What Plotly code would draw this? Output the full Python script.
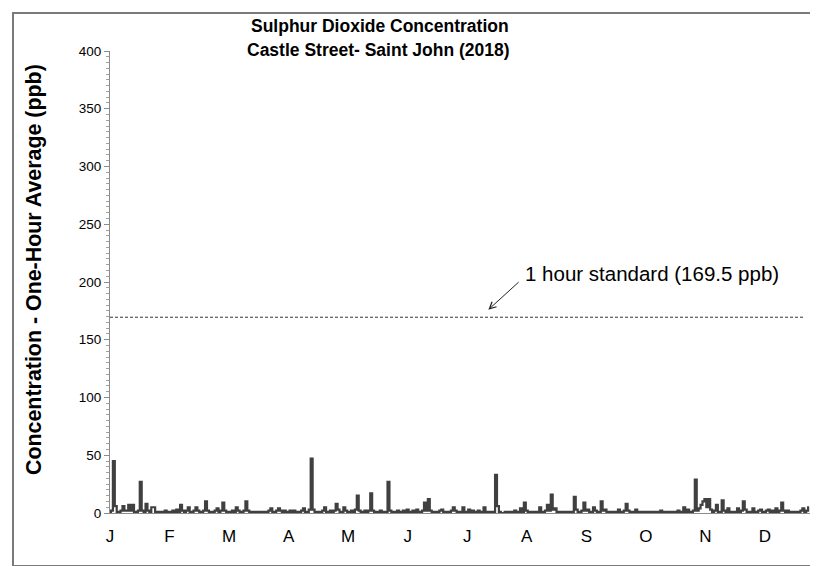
import plotly.graph_objects as go

# Daily peak one-hour SO2 (ppb), grouped in the chart's 31-day label blocks
blk_J1 = [1, 2, 45, 6, 1, 1, 2, 6, 2, 2, 7, 2, 7, 1, 1, 2, 27, 2, 1, 8, 2, 1, 5, 5, 1, 1, 1, 1, 1, 2, 1]
blk_F = [1, 1, 2, 1, 3, 1, 7, 2, 1, 2, 5, 1, 1, 2, 5, 2, 1, 1, 2, 10, 2, 1, 1, 1, 2, 4, 1, 2, 9, 2, 1]
blk_M1 = [1, 1, 2, 1, 5, 2, 1, 1, 2, 10, 2, 1, 1, 1, 1, 1, 1, 1, 1, 1, 1, 2, 4, 1, 1, 2, 4, 2, 1, 2, 1]
blk_A1 = [1, 2, 1, 2, 1, 1, 1, 2, 4, 1, 1, 3, 47, 3, 1, 1, 1, 1, 2, 5, 1, 1, 2, 1, 2, 8, 3, 1, 1, 5, 2]
blk_M2 = [1, 1, 2, 1, 3, 15, 2, 1, 1, 2, 1, 2, 17, 2, 1, 1, 1, 2, 1, 1, 1, 27, 2, 1, 1, 1, 2, 1, 1, 2, 1]
blk_J2 = [3, 1, 1, 2, 1, 3, 1, 1, 2, 9, 2, 12, 2, 1, 1, 1, 1, 2, 3, 1, 1, 1, 1, 2, 5, 2, 1, 1, 1, 5, 1]
blk_J3 = [1, 3, 1, 2, 1, 1, 2, 1, 1, 5, 1, 1, 1, 1, 1, 33, 6, 1, 0, 0, 1, 0, 1, 1, 1, 2, 1, 1, 4, 1, 9]
blk_A2 = [2, 1, 1, 1, 1, 1, 1, 5, 1, 1, 2, 7, 2, 16, 3, 4, 1, 1, 1, 1, 1, 1, 0, 1, 1, 14, 3, 1, 1, 2, 9]
blk_S = [2, 3, 1, 1, 5, 2, 1, 1, 10, 2, 3, 1, 1, 1, 1, 1, 1, 3, 1, 1, 2, 8, 2, 1, 1, 1, 3, 1, 1, 1, 1]
blk_O = [1, 0, 1, 1, 0, 1, 1, 1, 2, 1, 0, 1, 1, 1, 1, 1, 1, 2, 1, 1, 5, 1, 3, 1, 1, 2, 29, 2, 4, 7, 10]
blk_N = [12, 5, 12, 3, 1, 2, 7, 1, 1, 11, 2, 1, 4, 1, 1, 1, 1, 4, 1, 2, 10, 3, 1, 1, 1, 4, 1, 1, 2, 3, 1]
blk_D = [1, 2, 3, 1, 2, 1, 4, 1, 2, 9, 2, 1, 2, 1, 1, 1, 1, 1, 1, 2, 4, 1, 2, 5]

month_labels = ["J", "F", "M", "A", "M", "J", "J", "A", "S", "O", "N", "D"]
label_days = [0, 31, 62, 93, 124, 155, 186, 217, 248, 279, 310, 341]
standard_ppb = 169.5
y_ticks = [0, 50, 100, 150, 200, 250, 300, 350, 400]
title_lines = ["Sulphur Dioxide Concentration", "Castle Street- Saint John (2018)"]

so2 = (blk_J1 + blk_F + blk_M1 + blk_A1 + blk_M2 + blk_J2 + blk_J3 + blk_A2
       + blk_S + blk_O + blk_N + blk_D)
days = list(range(len(so2)))

W, H = 818, 566
L, R, T, B = 102, 15, 43, 61
pw, ph = W - L - R, H - T - B

def px_x(px):
    return (px - L) / pw

def px_y(py):
    return (H - B - py) / ph

FONT = "Liberation Sans, Arial, sans-serif"

fig = go.Figure()
fig.add_trace(go.Scatter(
    x=days, y=so2, mode="lines",
    line=dict(color="#404040", width=2.2, shape="hvh"),
    hoverinfo="skip", showlegend=False,
))

annotations = [
    dict(x=px_x(372), y=px_y(18), xref="paper", yref="paper", xanchor="center", yanchor="middle",
         text="<b>" + title_lines[0] + "</b>", showarrow=False,
         font=dict(size=17.5, family=FONT, color="black")),
    dict(x=px_x(370), y=px_y(42), xref="paper", yref="paper", xanchor="center", yanchor="middle",
         text="<b>" + title_lines[1] + "</b>", showarrow=False,
         font=dict(size=17.5, family=FONT, color="black")),
    dict(x=197, y=176, xref="x", yref="y", ax=213.5, ay=201, axref="x", ayref="y",
         text="", showarrow=True, arrowhead=5, arrowsize=1.3, arrowwidth=1,
         arrowcolor="#222222"),
    dict(x=215, y=207, xref="x", yref="y", xanchor="left", yanchor="middle",
         text="1 hour standard (169.5 ppb)", showarrow=False,
         font=dict(size=20.5, family=FONT, color="black")),
    dict(x=px_x(26), y=px_y(262), xref="paper", yref="paper",
         xanchor="center", yanchor="middle", textangle=-90,
         text="<b>Concentration - One-Hour Average (ppb)</b>", showarrow=False,
         font=dict(size=21.4, family=FONT, color="black")),
]

fig.update_layout(
    width=W, height=H,
    margin=dict(l=L, r=R, t=T, b=B, pad=0),
    paper_bgcolor="white", plot_bgcolor="white",
    font=dict(family=FONT, color="black"),
    xaxis=dict(
        range=[0, 365], tickmode="array", tickvals=label_days, ticktext=month_labels,
        showgrid=False, zeroline=False, showline=True, linecolor="#8c8c8c", linewidth=1,
        ticks="", tickfont=dict(size=17, color="black"), ticklabelstandoff=8,
    ),
    yaxis=dict(
        range=[0, 400], tickmode="array", tickvals=y_ticks,
        showgrid=False, zeroline=False, showline=True, linecolor="#8c8c8c", linewidth=1,
        ticks="outside", ticklen=5, tickcolor="#8c8c8c", tickwidth=1,
        minor=dict(dtick=5, ticks="outside", ticklen=3, tickcolor="#a0a0a0", tickwidth=1),
        tickfont=dict(size=13.5, color="black"), ticklabelstandoff=0,
    ),
    shapes=[
        dict(type="line", xref="x", yref="y", x0=0, x1=361, y0=standard_ppb, y1=standard_ppb,
             line=dict(color="#333333", width=1, dash="3px,2px")),
        dict(type="rect", xref="paper", yref="paper",
             x0=px_x(5), x1=px_x(815), y0=px_y(558), y1=px_y(5),
             line=dict(color="#7a7a7a", width=2), fillcolor="rgba(0,0,0,0)", layer="below"),
    ],
    annotations=annotations,
)

fig.write_html("out.html")
